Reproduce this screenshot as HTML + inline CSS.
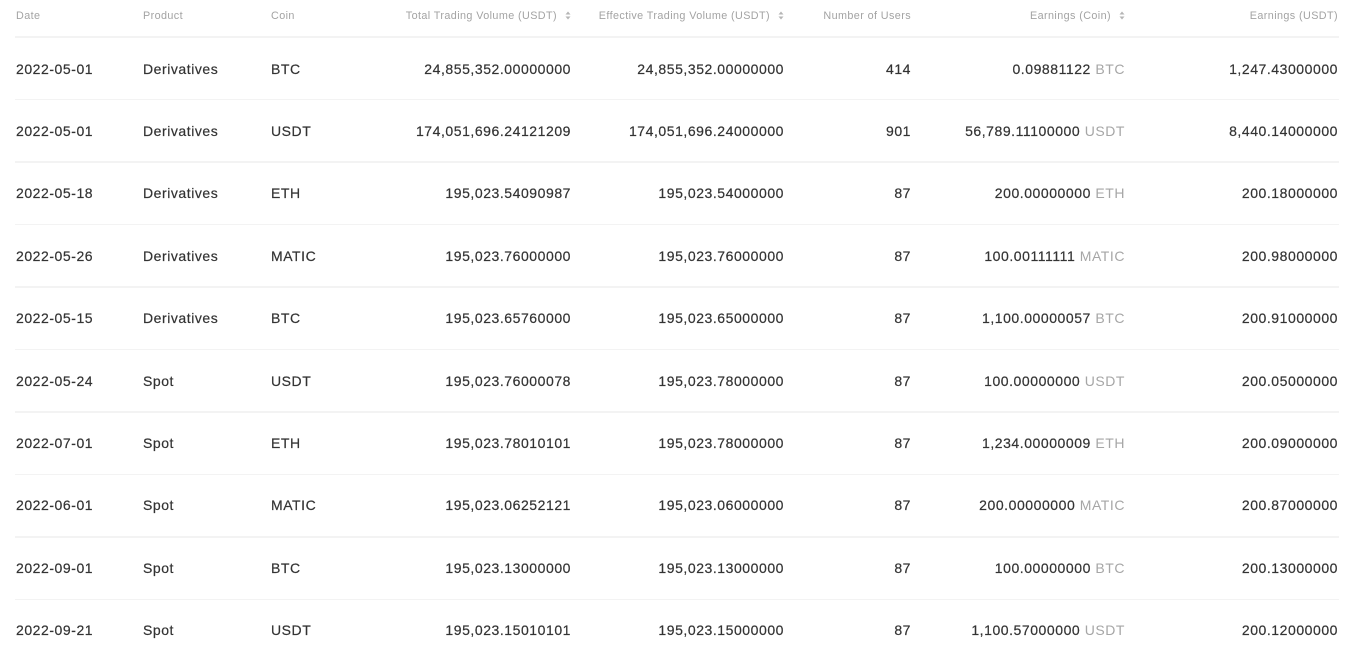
<!DOCTYPE html>
<html><head><meta charset="utf-8">
<style>
html,body{margin:0;padding:0;background:#fff;}
body{width:1364px;height:658px;position:relative;overflow:hidden;font-family:"Liberation Sans",sans-serif;}
.h{position:absolute;top:6px;height:20px;line-height:20px;font-size:10.8px;letter-spacing:0.4px;color:#a3a3a3;white-space:nowrap;}
.r{position:absolute;height:20px;line-height:20px;font-size:14px;letter-spacing:0.55px;color:#333;white-space:nowrap;-webkit-text-stroke:0.2px #333;}
.rt{text-align:right;}
.u{color:#a6a6a6;-webkit-text-stroke:0;}
.line{position:absolute;left:15px;width:1324px;height:1.5px;background:#f3f3f3;}
.s{display:inline-block;width:6px;height:9px;margin-left:8px;vertical-align:-1px;}
</style></head><body>

<div class="h" style="left:16px">Date</div>
<div class="h" style="left:143px">Product</div>
<div class="h" style="left:271px">Coin</div>
<div class="h rt" style="right:793px">Total Trading Volume (USDT)<svg class="s" viewBox="0 0 6 9"><path d="M3 0.5L5.5 3.5H0.5Z M3 8.5L5.5 5.5H0.5Z" fill="#b5b5b5"/></svg></div>
<div class="h rt" style="right:580px">Effective Trading Volume (USDT)<svg class="s" viewBox="0 0 6 9"><path d="M3 0.5L5.5 3.5H0.5Z M3 8.5L5.5 5.5H0.5Z" fill="#b5b5b5"/></svg></div>
<div class="h rt" style="right:453px">Number of Users</div>
<div class="h rt" style="right:239px">Earnings (Coin)<svg class="s" viewBox="0 0 6 9"><path d="M3 0.5L5.5 3.5H0.5Z M3 8.5L5.5 5.5H0.5Z" fill="#b5b5b5"/></svg></div>
<div class="h rt" style="right:26px">Earnings (USDT)</div>

<div class="line" style="top:36px"></div>
<div class="line" style="top:98.5px"></div>
<div class="line" style="top:161px"></div>
<div class="line" style="top:223.5px"></div>
<div class="line" style="top:286px"></div>
<div class="line" style="top:348.5px"></div>
<div class="line" style="top:411px"></div>
<div class="line" style="top:473.5px"></div>
<div class="line" style="top:536px"></div>
<div class="line" style="top:598.5px"></div>

<div style="position:absolute;left:0;top:58.5px;width:1364px;height:20px;">
<div class="r" style="left:16px">2022-05-01</div>
<div class="r" style="left:143px">Derivatives</div>
<div class="r" style="left:271px">BTC</div>
<div class="r rt" style="right:793px">24,855,352.00000000</div>
<div class="r rt" style="right:580px">24,855,352.00000000</div>
<div class="r rt" style="right:453px">414</div>
<div class="r rt" style="right:239px">0.09881122 <span class="u">BTC</span></div>
<div class="r rt" style="right:26px">1,247.43000000</div>
</div>

<div style="position:absolute;left:0;top:120.9px;width:1364px;height:20px;">
<div class="r" style="left:16px">2022-05-01</div>
<div class="r" style="left:143px">Derivatives</div>
<div class="r" style="left:271px">USDT</div>
<div class="r rt" style="right:793px">174,051,696.24121209</div>
<div class="r rt" style="right:580px">174,051,696.24000000</div>
<div class="r rt" style="right:453px">901</div>
<div class="r rt" style="right:239px">56,789.11100000 <span class="u">USDT</span></div>
<div class="r rt" style="right:26px">8,440.14000000</div>
</div>

<div style="position:absolute;left:0;top:183.3px;width:1364px;height:20px;">
<div class="r" style="left:16px">2022-05-18</div>
<div class="r" style="left:143px">Derivatives</div>
<div class="r" style="left:271px">ETH</div>
<div class="r rt" style="right:793px">195,023.54090987</div>
<div class="r rt" style="right:580px">195,023.54000000</div>
<div class="r rt" style="right:453px">87</div>
<div class="r rt" style="right:239px">200.00000000 <span class="u">ETH</span></div>
<div class="r rt" style="right:26px">200.18000000</div>
</div>

<div style="position:absolute;left:0;top:245.7px;width:1364px;height:20px;">
<div class="r" style="left:16px">2022-05-26</div>
<div class="r" style="left:143px">Derivatives</div>
<div class="r" style="left:271px">MATIC</div>
<div class="r rt" style="right:793px">195,023.76000000</div>
<div class="r rt" style="right:580px">195,023.76000000</div>
<div class="r rt" style="right:453px">87</div>
<div class="r rt" style="right:239px">100.00111111 <span class="u">MATIC</span></div>
<div class="r rt" style="right:26px">200.98000000</div>
</div>

<div style="position:absolute;left:0;top:308.1px;width:1364px;height:20px;">
<div class="r" style="left:16px">2022-05-15</div>
<div class="r" style="left:143px">Derivatives</div>
<div class="r" style="left:271px">BTC</div>
<div class="r rt" style="right:793px">195,023.65760000</div>
<div class="r rt" style="right:580px">195,023.65000000</div>
<div class="r rt" style="right:453px">87</div>
<div class="r rt" style="right:239px">1,100.00000057 <span class="u">BTC</span></div>
<div class="r rt" style="right:26px">200.91000000</div>
</div>

<div style="position:absolute;left:0;top:370.5px;width:1364px;height:20px;">
<div class="r" style="left:16px">2022-05-24</div>
<div class="r" style="left:143px">Spot</div>
<div class="r" style="left:271px">USDT</div>
<div class="r rt" style="right:793px">195,023.76000078</div>
<div class="r rt" style="right:580px">195,023.78000000</div>
<div class="r rt" style="right:453px">87</div>
<div class="r rt" style="right:239px">100.00000000 <span class="u">USDT</span></div>
<div class="r rt" style="right:26px">200.05000000</div>
</div>

<div style="position:absolute;left:0;top:432.9px;width:1364px;height:20px;">
<div class="r" style="left:16px">2022-07-01</div>
<div class="r" style="left:143px">Spot</div>
<div class="r" style="left:271px">ETH</div>
<div class="r rt" style="right:793px">195,023.78010101</div>
<div class="r rt" style="right:580px">195,023.78000000</div>
<div class="r rt" style="right:453px">87</div>
<div class="r rt" style="right:239px">1,234.00000009 <span class="u">ETH</span></div>
<div class="r rt" style="right:26px">200.09000000</div>
</div>

<div style="position:absolute;left:0;top:495.3px;width:1364px;height:20px;">
<div class="r" style="left:16px">2022-06-01</div>
<div class="r" style="left:143px">Spot</div>
<div class="r" style="left:271px">MATIC</div>
<div class="r rt" style="right:793px">195,023.06252121</div>
<div class="r rt" style="right:580px">195,023.06000000</div>
<div class="r rt" style="right:453px">87</div>
<div class="r rt" style="right:239px">200.00000000 <span class="u">MATIC</span></div>
<div class="r rt" style="right:26px">200.87000000</div>
</div>

<div style="position:absolute;left:0;top:557.7px;width:1364px;height:20px;">
<div class="r" style="left:16px">2022-09-01</div>
<div class="r" style="left:143px">Spot</div>
<div class="r" style="left:271px">BTC</div>
<div class="r rt" style="right:793px">195,023.13000000</div>
<div class="r rt" style="right:580px">195,023.13000000</div>
<div class="r rt" style="right:453px">87</div>
<div class="r rt" style="right:239px">100.00000000 <span class="u">BTC</span></div>
<div class="r rt" style="right:26px">200.13000000</div>
</div>

<div style="position:absolute;left:0;top:620.1px;width:1364px;height:20px;">
<div class="r" style="left:16px">2022-09-21</div>
<div class="r" style="left:143px">Spot</div>
<div class="r" style="left:271px">USDT</div>
<div class="r rt" style="right:793px">195,023.15010101</div>
<div class="r rt" style="right:580px">195,023.15000000</div>
<div class="r rt" style="right:453px">87</div>
<div class="r rt" style="right:239px">1,100.57000000 <span class="u">USDT</span></div>
<div class="r rt" style="right:26px">200.12000000</div>
</div>

</body></html>
